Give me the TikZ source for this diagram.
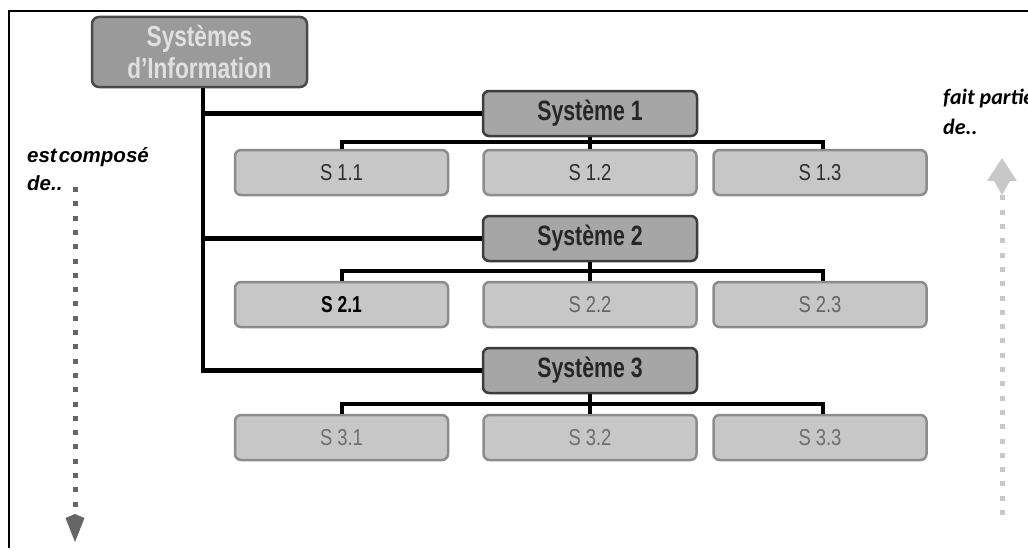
\documentclass[tikz,border=0pt]{standalone}
\usepackage{fontspec}
\setmainfont{Liberation Sans}
\newfontfamily\narrowA[FakeStretch=0.8]{Liberation Sans}
\newfontfamily\narrowS[FakeStretch=0.76]{Liberation Sans Bold}
\newfontfamily\narrowT[FakeStretch=0.78]{Liberation Sans Bold}
\newfontfamily\labfont{Liberation Sans Bold Italic}
\newfontfamily\calib{Carlito}
\usetikzlibrary{arrows.meta}
\definecolor{topfill}{HTML}{9A9A9A}
\definecolor{topline}{HTML}{4A4A4A}
\definecolor{sysfill}{HTML}{A6A6A6}
\definecolor{sysline}{HTML}{3C3C3C}
\definecolor{subfill}{HTML}{C7C7C7}
\definecolor{subline}{HTML}{8C8C8C}
\definecolor{darkarrow}{HTML}{666666}
\definecolor{lightarrow}{HTML}{C8C8C8}
\tikzset{
  topbox/.style={draw=topline, fill=topfill, line width=2.5pt, rounded corners=7pt,
    minimum width=215pt, minimum height=70pt, inner sep=0pt, align=center,
    text=white!88!black, font=\narrowT\fontsize{29pt}{36pt}\selectfont},
  sysbox/.style={draw=sysline, fill=sysfill, line width=2.5pt, rounded corners=6pt,
    minimum width=214pt, minimum height=45pt, inner sep=0pt,
    text=black!85, font=\narrowS\fontsize{28pt}{32pt}\selectfont},
  subbox/.style={draw=subline, fill=subfill, line width=2.5pt, rounded corners=6pt,
    minimum width=213pt, minimum height=45pt, inner sep=0pt,
    font=\narrowA\fontsize{23pt}{26pt}\selectfont},
  trunk/.style={line width=4.5pt, black},
  bus/.style={line width=4pt, black},
  lbl/.style={inner sep=0pt, anchor=base west},
  dotline/.style={line width=5pt, dash pattern=on 5pt off 9.3pt}
}
\begin{document}
\begin{tikzpicture}[x=1pt, y=-1pt]
\useasboundingbox (0,0) rectangle (1028,551);
% frame
\draw[line width=2pt] (8.5,548) -- (8.5,11) -- (1030,11);

% nodes
\node[topbox] (top) at (199.5,52) {Systèmes\\[-4pt]d’Information};

\node[sysbox] (sys1) at (590,113.5) {Système 1};
\node[sysbox] (sys2) at (590,238.5) {Système 2};
\node[sysbox] (sys3) at (590,370.5) {Système 3};

\node[subbox, text=black!82] (s11) at (341.5,172.5) {S 1.1};
\node[subbox, text=black!82] (s12) at (590,172.5) {S 1.2};
\node[subbox, text=black!82] (s13) at (820,172.5) {S 1.3};

\node[subbox, text=black, font=\narrowS\fontsize{23pt}{26pt}\selectfont] (s21) at (341.5,304.5) {S 2.1};
\node[subbox, text=black!60] (s22) at (590,304.5) {S 2.2};
\node[subbox, text=black!60] (s23) at (820,304.5) {S 2.3};

\node[subbox, text=black!57] (s31) at (341.5,437.5) {S 3.1};
\node[subbox, text=black!57] (s32) at (590,437.5) {S 3.2};
\node[subbox, text=black!57] (s33) at (820,437.5) {S 3.3};

% trunk
\draw[trunk] ([xshift=3.5pt]top.south) |- (sys3.west);
\draw[trunk] ([xshift=3.5pt]top.south |- sys1.west) -- (sys1.west);
\draw[trunk] ([xshift=3.5pt]top.south |- sys2.west) -- (sys2.west);

% buses
\draw[bus] (sys1.south) -- (s12.north);
\draw[bus] (s11.north) -- ++(0,-7) -| ([xshift=3pt]s13.north);
\draw[bus] (sys2.south) -- (s22.north);
\draw[bus] (s21.north) -- ++(0,-10) -| ([xshift=3pt]s23.north);
\draw[bus] (sys3.south) -- (s32.north);
\draw[bus] (s31.north) -- ++(0,-10) -| ([xshift=3pt]s33.north);

% labels
\node[lbl, font=\labfont\fontsize{20.5pt}{24pt}\selectfont] (lab1) at (27,162) {est\hspace{2pt}composé};
\node[lbl, font=\labfont\fontsize{20.5pt}{24pt}\selectfont] (lab2) at (27,190) {de..};
\node[lbl, font=\calib\bfseries\itshape\fontsize{22pt}{26pt}\selectfont] (lab3) at (943,104) {fait partie};
\node[lbl, font=\calib\bfseries\itshape\fontsize{22pt}{26pt}\selectfont] (lab4) at (943,134) {de..};

% arrow "est composé de.." (down)
\coordinate (a1s) at (75,187);
\coordinate (a1m) at (75,518);
\coordinate (a1e) at (75,542);
\draw[darkarrow, dotline] (a1s) -- (a1m);
\fill[darkarrow] (a1e) -- ([xshift=-9.5pt]a1m) -- ([yshift=4pt]a1m) -- ([xshift=9.5pt]a1m) -- cycle;

% arrow "fait partie de.." (up)
\coordinate (a2s) at (1002,515);
\coordinate (a2m) at (1002,181);
\coordinate (a2e) at (1002,158);
\draw[lightarrow, dotline] (a2s) -- ([yshift=6pt]a2m);
\fill[lightarrow] (a2e) -- ([xshift=15pt]a2m) -- ([xshift=8pt]a2m) -- ([yshift=-14pt]a2m)
  -- ([xshift=-8pt]a2m) -- ([xshift=-15pt]a2m) -- cycle;
\end{tikzpicture}
\end{document}
